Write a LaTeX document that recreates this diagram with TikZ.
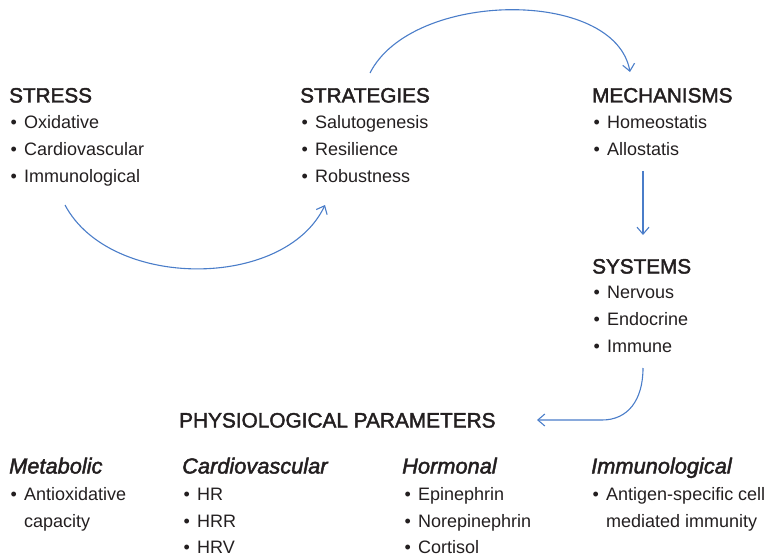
\documentclass[tikz,border=0pt]{standalone}
\usepackage{fontspec}
\setmainfont{Liberation Sans}
\newfontfamily\hdfont[FakeBold=2]{Liberation Sans}
\usetikzlibrary{arrows.meta}
\definecolor{txt}{RGB}{35,31,32}
\definecolor{arr}{RGB}{74,125,201}
\tikzset{
  itemtxt/.style={anchor=base west, inner sep=0pt, text=txt, font=\fontsize{18}{20}\selectfont},
  headtxt/.style={anchor=base west, inner sep=0pt, text=txt, font=\hdfont\fontsize{20.7}{22}\selectfont},
  ihead/.style={anchor=base west, inner sep=0pt, text=txt, font=\hdfont\itshape\fontsize{21.8}{24}\selectfont},
  conn/.style={draw=arr, line width=1.1pt, -{Straight Barb[length=7pt,width=12pt]}},
}
\newcommand\itm[4]{\node[itemtxt] (#1) at (#2+15,#3) {#4}; \node[itemtxt] (#1-b) at (#2+1.5,#3) {\textbullet};}
\begin{document}
\begin{tikzpicture}[x=1pt,y=-1pt]
\useasboundingbox (0,0) rectangle (770,556);
% STRESS
\node[headtxt] (stress) at (9,102.5) {STRESS};
\itm{s1}{9}{128.5}{Oxidative}
\itm{s2}{9}{155.5}{Cardiovascular}
\itm{s3}{9}{182.5}{Immunological}
% STRATEGIES
\node[headtxt] (strat) at (300,102.5) {STRATEGIES};
\itm{t1}{300}{128.5}{Salutogenesis}
\itm{t2}{300}{155.5}{Resilience}
\itm{t3}{300}{182.5}{Robustness}
% MECHANISMS
\node[headtxt] (mech) at (592,102.5) {MECHANISMS};
\itm{m1}{592}{128.5}{Homeostatis}
\itm{m2}{592}{155.5}{Allostatis}
% SYSTEMS
\node[headtxt] (sys) at (592,273.5) {SYSTEMS};
\itm{y1}{592}{298.5}{Nervous}
\itm{y2}{592}{325.5}{Endocrine}
\itm{y3}{592}{352.5}{Immune}
% PHYSIOLOGICAL PARAMETERS
\node[headtxt, font=\hdfont\fontsize{20.8}{22}\selectfont] (phys) at (179,427.5) {PHYSIOLOGICAL PARAMETERS};
% bottom columns
\node[ihead] (metab) at (9,473.5) {Metabolic};
\itm{a1}{9}{500.5}{Antioxidative}
\node[itemtxt] (a1c) at (24,527.5) {capacity};
\node[ihead] (cardio) at (182,473.5) {Cardiovascular};
\itm{c1}{182}{500.5}{HR}
\itm{c2}{182}{527.5}{HRR}
\itm{c3}{182}{553.5}{HRV}
\node[ihead] (horm) at (402,473.5) {Hormonal};
\itm{h1}{403}{500.5}{Epinephrin}
\itm{h2}{403}{527.5}{Norepinephrin}
\itm{h3}{403}{553.5}{Cortisol}
\node[ihead] (immu) at (591,473.5) {Immunological};
\itm{i1}{591}{500.5}{Antigen-specific cell}
\node[itemtxt] (i1c) at (606,527.5) {mediated immunity};
% connector end points
\coordinate (p1s) at (65,205);
\coordinate (p1e) at (325,205);
\coordinate (p2s) at (370,73);
\coordinate (p2e) at (630,72);
\coordinate (p3s) at (643,171);
\coordinate (p3e) at (643,235);
\coordinate (p4s) at (643,368);
\coordinate (p4m) at (602,420);
\coordinate (p4e) at (537,420);
\draw[conn] (p1s) .. controls (110,290) and (285,290) .. (p1e);
\draw[conn] (p2s) .. controls (412,-10) and (615,-12) .. (p2e);
\draw[conn] (p3s) -- (p3e);
\draw[conn] (p4s) .. controls (643,400) and (628,420) .. (p4m) -- (p4e);
\end{tikzpicture}
\end{document}
